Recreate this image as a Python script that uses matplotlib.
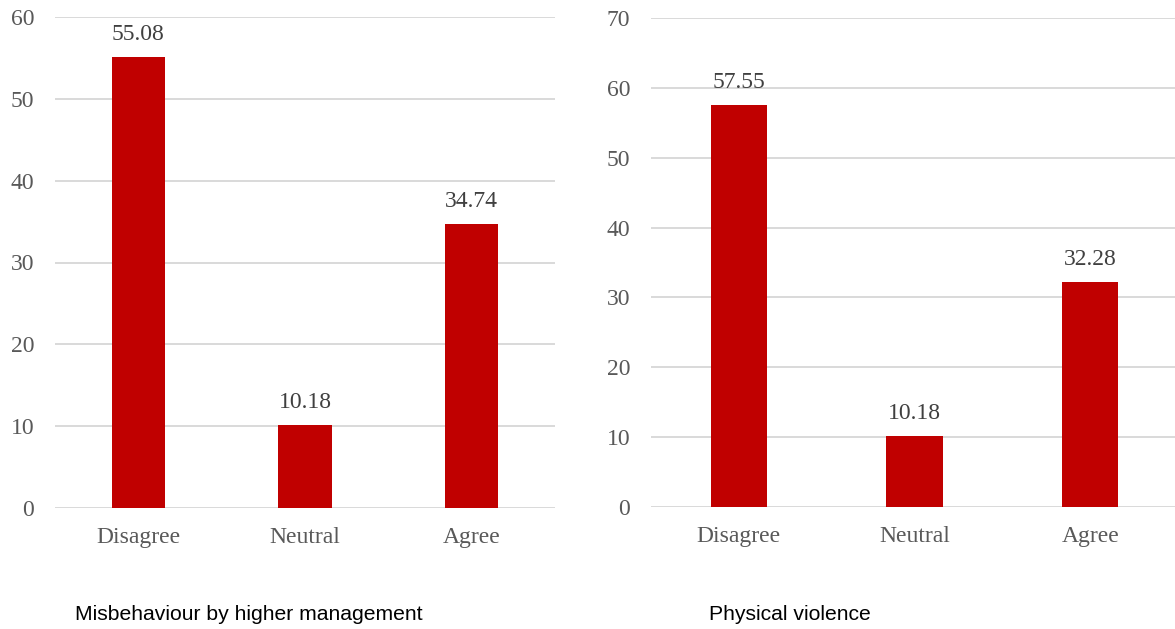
import matplotlib
matplotlib.use("Agg")
import matplotlib.pyplot as plt

categories = ["Disagree", "Neutral", "Agree"]
misbehaviour = [55.08, 10.18, 34.74]
violence = [57.55, 10.18, 32.28]
titles = ["Misbehaviour by higher management", "Physical violence"]
y_limits = [60, 70]

BAR = "#C00000"
GRID = "#D9D9D9"
TEXT = "#595959"
SERIF = ["Liberation Serif", "DejaVu Serif"]
SANS = ["Liberation Sans", "DejaVu Sans"]

fig = plt.figure(figsize=(11.75, 6.29), dpi=100)
W, H = 1175, 629
# axes boxes in pixel coordinates: (left, top, right, bottom)
boxes = [(55, 17, 555, 508), (651, 18, 1178, 507)]
title_x = [75, 709]

for box, vals, ttl, ymax, tx in zip(boxes, [misbehaviour, violence], titles, y_limits, title_x):
    l, t, r, b = box
    ax = fig.add_axes([l / W, 1 - b / H, (r - l) / W, (b - t) / H])
    x = range(len(categories))
    ax.bar(x, vals, width=0.32, color=BAR, zorder=3)
    ax.set_xlim(-0.5, len(categories) - 0.5)
    ax.set_ylim(0, ymax)
    ax.set_yticks(range(0, ymax + 1, 10))
    ax.yaxis.grid(True, color=GRID, linewidth=1.4, zorder=0)
    ax.set_axisbelow(True)
    for s in ax.spines.values():
        s.set_visible(False)
    ax.tick_params(length=0, colors=TEXT, labelsize=17)
    ax.tick_params(axis="y", pad=15)
    ax.tick_params(axis="x", pad=14)
    ax.set_xticks(list(x))
    ax.set_xticklabels(categories, fontfamily=SERIF)
    for lab in ax.get_yticklabels():
        lab.set_fontfamily(SERIF)
    for xi, v in zip(x, vals):
        ax.annotate(f"{v:.2f}", (xi, v), xytext=(0, 8.5), textcoords="offset points",
                    ha="center", va="bottom", color="#404040", fontsize=17,
                    fontfamily=SERIF)
    fig.text(tx / W, 1 - 615 / H, ttl, fontsize=15.2, fontfamily=SANS,
             color="black", ha="left", va="center")

fig.savefig("out.png", dpi=100)
